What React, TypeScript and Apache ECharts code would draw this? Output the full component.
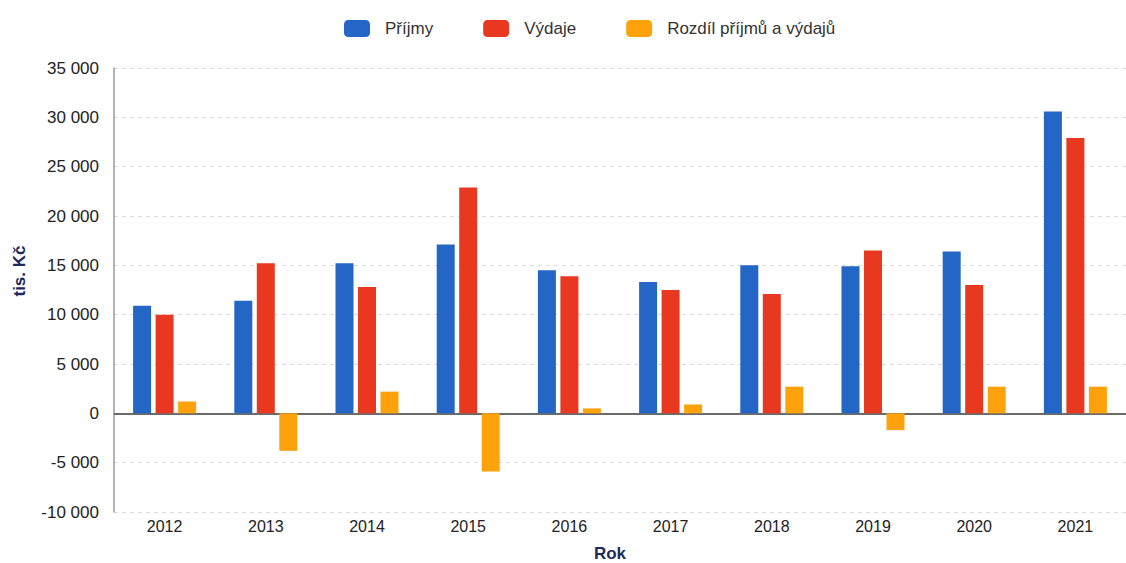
import React, { useEffect, useRef } from "react";
import * as echarts from "echarts";

const years = ["2012", "2013", "2014", "2015", "2016", "2017", "2018", "2019", "2020", "2021"];
const prijmy = [10900, 11400, 15200, 17100, 14500, 13300, 15000, 14900, 16400, 30600];
const vydaje = [10000, 15200, 12800, 22900, 13900, 12500, 12100, 16500, 13000, 27900];
const rozdil = [1200, -3800, 2200, -5900, 500, 900, 2700, -1700, 2700, 2700];
const seriesNames = ["Příjmy", "Výdaje", "Rozdíl příjmů a výdajů"];
const colors = ["#2366c6", "#e8381f", "#fda20b"];

const fmt = (v: number) => {
  const s = Math.abs(v).toString().replace(/\B(?=(\d{3})+(?!\d))/g, " ");
  return (v < 0 ? "-" : "") + s;
};

export default function App() {
  const ref = useRef<HTMLDivElement>(null);
  useEffect(() => {
    document.body.style.margin = "0";
    if (!ref.current) return;
    const chart = echarts.init(ref.current, undefined, { renderer: "svg" });
    const font = "Liberation Sans, Arial, sans-serif";
    const datasets = [prijmy, vydaje, rozdil];
    chart.setOption({
      animation: false,
      color: colors,
      textStyle: { fontFamily: font },
      legend: {
        top: 20,
        left: 344,
        padding: 0,
        itemWidth: 26,
        itemHeight: 17,
        itemGap: 50,
        icon: "roundRect",
        data: seriesNames,
        textStyle: { fontSize: 17, color: "#333", padding: [0, 0, 0, 10], fontFamily: font },
      },
      grid: { left: 114, top: 68, width: 1029, height: 444, containLabel: false },
      xAxis: {
        type: "category",
        data: years,
        axisLine: { show: false, onZero: false },
        axisTick: { show: false },
        axisLabel: { fontSize: 16, color: "#222", margin: 6, fontFamily: font },
        splitLine: { show: false },
      },
      yAxis: {
        type: "value",
        min: -10000,
        max: 35000,
        interval: 5000,
        axisLine: { show: true, lineStyle: { color: "#9a9a9a", width: 1.5 } },
        axisTick: { show: false },
        axisLabel: { fontSize: 17, color: "#222", margin: 15, formatter: fmt, fontFamily: font },
        splitLine: { show: true, lineStyle: { color: "#dcdcdc", type: [4, 4], width: 1 } },
      },
      graphic: [
        {
          type: "text",
          x: 19,
          y: 271,
          rotation: Math.PI / 2,
          style: {
            text: "tis. Kč",
            fontSize: 17,
            fontWeight: "bold",
            fill: "#1d2b5c",
            align: "center",
            verticalAlign: "middle",
            fontFamily: font,
          },
        },
        {
          type: "text",
          x: 610,
          y: 553,
          style: {
            text: "Rok",
            fontSize: 17,
            fontWeight: "bold",
            fill: "#1d2b5c",
            align: "center",
            verticalAlign: "middle",
            fontFamily: font,
          },
        },
      ],
      series: seriesNames.map((name, i) => ({
        name,
        type: "bar",
        data: datasets[i],
        barWidth: 18,
        barGap: "25%",
        itemStyle: { color: colors[i] },
        ...(i === 0
          ? {
              markLine: {
                silent: true,
                symbol: "none",
                label: { show: false },
                lineStyle: { color: "#6b6b6b", width: 1.8, type: "solid" },
                data: [{ yAxis: 0 }],
                z: 1,
              },
            }
          : {}),
      })),
    });
    return () => chart.dispose();
  }, []);
  return <div ref={ref} style={{ width: 1126, height: 563 }} />;
}
